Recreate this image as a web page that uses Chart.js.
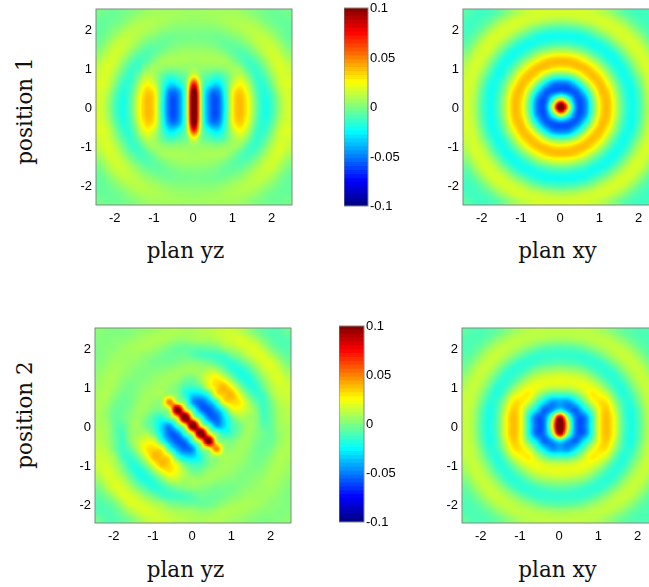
<!DOCTYPE html>
<html>
<head>
<meta charset="utf-8">
<script src="https://cdn.jsdelivr.net/npm/chart.js@4"></script>
<style>
  html, body { margin: 0; background: #fff; overflow: hidden; }
  #page { position: relative; width: 649px; height: 587px; overflow: hidden; }
  canvas { position: absolute; }
  .side, .plan { position: absolute; font: 21.5px "DejaVu Serif", serif; color: #111; white-space: nowrap; }
  .side { transform: translate(-50%, -50%) rotate(-90deg); }
  .plan { transform: translate(-50%, -50%); }
</style>
</head>
<body>
<div id="page">
  <div class="side" style="left:24px; top:111px">position 1</div>
  <div class="side" style="left:24px; top:415px">position 2</div>
  <div class="plan" style="left:185.5px; top:250px">plan yz</div>
  <div class="plan" style="left:557.5px; top:250px">plan xy</div>
  <div class="plan" style="left:185.5px; top:569px">plan yz</div>
  <div class="plan" style="left:557.5px; top:569px">plan xy</div>
</div>
<script>
// values, in thousandths, top row is y = 2.4
const gridCoords = [-2.4, -2.2, -2, -1.8, -1.6, -1.4, -1.2, -1, -0.8, -0.6, -0.4, -0.2, 0, 0.2, 0.4, 0.6, 0.8, 1, 1.2, 1.4, 1.6, 1.8, 2, 2.2, 2.4];
const axisTicks = [-2, -1, 0, 1, 2];
const barTicks = [-100, -50, 0, 50, 100];
const barLevels = [-100, -96, -92, -88, -84, -80, -76, -72, -68, -64, -60, -56, -52, -48, -44, -40, -36, -32, -28, -24, -20, -16, -12, -8, -4, 0, 4, 8, 12, 16, 20, 24, 28, 32, 36, 40, 44, 48, 52, 56, 60, 64, 68, 72, 76, 80, 84, 88, 92, 96, 100];

const yzPosition1 = [
  [-2,-4,-4,-2,0,3,6,7,7,7,7,6,6,6,7,7,7,7,6,3,0,-2,-4,-4,-2],
  [-5,-5,-3,0,5,8,9,9,8,6,5,5,4,5,5,6,8,9,9,8,5,0,-3,-5,-5],
  [-6,-3,1,6,10,11,9,7,4,2,1,1,1,1,1,2,4,7,9,11,10,6,1,-3,-6],
  [-5,0,7,12,12,9,4,1,-2,-3,-2,-2,-1,-2,-2,-3,-2,1,4,9,12,12,7,0,-5],
  [-2,6,13,14,10,3,-3,-5,-5,-2,0,1,1,1,0,-2,-5,-5,-3,3,10,14,13,6,-2],
  [3,11,16,12,3,-5,-9,-6,-1,3,5,6,6,6,5,3,-1,-6,-9,-5,3,12,16,11,3],
  [9,16,15,5,-6,-12,-8,0,7,8,8,8,7,8,8,8,7,0,-8,-12,-6,5,15,16,9],
  [14,18,11,-2,-13,-11,2,7,4,2,3,4,6,4,3,2,4,7,2,-11,-13,-2,11,18,14],
  [16,16,5,-9,-15,-2,12,7,-6,-14,-9,-2,22,-2,-9,-14,-6,7,12,-2,-15,-9,5,16,16],
  [19,15,0,-15,-13,8,24,14,-12,-30,-22,0,70,0,-22,-30,-12,14,24,8,-13,-15,0,15,19],
  [17,11,-7,-18,-9,16,34,25,-17,-50,-44,0,110,0,-44,-50,-17,25,34,16,-9,-18,-7,11,17],
  [17,7,-11,-20,-6,21,38,28,-20,-58,-50,0,120,0,-50,-58,-20,28,38,21,-6,-20,-11,7,17],
  [17,6,-12,-20,-5,22,38,28,-22,-58,-50,0,120,0,-50,-58,-22,28,38,22,-5,-20,-12,6,17],
  [17,7,-11,-20,-6,21,38,28,-20,-58,-50,0,120,0,-50,-58,-20,28,38,21,-6,-20,-11,7,17],
  [17,11,-7,-18,-9,16,34,25,-17,-50,-44,0,110,0,-44,-50,-17,25,34,16,-9,-18,-7,11,17],
  [19,15,0,-15,-13,8,24,14,-12,-30,-22,0,70,0,-22,-30,-12,14,24,8,-13,-15,0,15,19],
  [16,16,5,-9,-15,-2,12,7,-6,-14,-9,-2,22,-2,-9,-14,-6,7,12,-2,-15,-9,5,16,16],
  [14,18,11,-2,-13,-11,2,7,4,2,3,4,6,4,3,2,4,7,2,-11,-13,-2,11,18,14],
  [9,16,15,5,-6,-12,-8,0,7,8,8,8,7,8,8,8,7,0,-8,-12,-6,5,15,16,9],
  [3,11,16,12,3,-5,-9,-6,-1,3,5,6,6,6,5,3,-1,-6,-9,-5,3,12,16,11,3],
  [-2,6,13,14,10,3,-3,-5,-5,-2,0,1,1,1,0,-2,-5,-5,-3,3,10,14,13,6,-2],
  [-5,0,7,12,12,9,4,1,-2,-3,-2,-2,-1,-2,-2,-3,-2,1,4,9,12,12,7,0,-5],
  [-6,-3,1,6,10,11,9,7,4,2,1,1,1,1,1,2,4,7,9,11,10,6,1,-3,-6],
  [-5,-5,-3,0,5,8,9,9,8,6,5,5,4,5,5,6,8,9,9,8,5,0,-3,-5,-5],
  [-2,-4,-4,-2,0,3,6,7,7,7,7,6,6,6,7,7,7,7,6,3,0,-2,-4,-4,-2]
];

const xyPosition1 = [
  [-8,-12,-13,-11,-7,0,7,12,15,17,17,17,17,17,17,17,15,12,7,0,-7,-11,-13,-12,-8],
  [-12,-13,-10,-5,4,11,16,17,15,13,10,8,7,8,10,13,15,17,16,11,4,-5,-10,-13,-12],
  [-13,-10,-4,6,14,17,15,10,2,-4,-9,-11,-12,-11,-9,-4,2,10,15,17,14,6,-4,-10,-13],
  [-11,-5,6,15,17,13,3,-6,-14,-20,-22,-22,-22,-22,-22,-20,-14,-6,3,13,17,15,6,-5,-11],
  [-7,4,14,17,11,0,-12,-20,-22,-18,-14,-11,-10,-11,-14,-18,-22,-20,-12,0,11,17,14,4,-7],
  [0,11,17,13,0,-14,-22,-19,-11,0,7,13,14,13,7,0,-11,-19,-22,-14,0,13,17,11,0],
  [7,16,15,3,-12,-22,-18,-5,9,23,33,37,38,37,33,23,9,-5,-18,-22,-12,3,15,16,7],
  [12,17,10,-6,-20,-19,-5,13,30,38,36,30,28,30,36,38,30,13,-5,-19,-20,-6,10,17,12],
  [15,15,2,-14,-22,-11,9,30,38,28,8,-6,-10,-6,8,28,38,30,9,-11,-22,-14,2,15,15],
  [17,13,-4,-20,-18,0,23,38,28,0,-28,-48,-52,-48,-28,0,28,38,23,0,-18,-20,-4,13,17],
  [17,10,-9,-22,-14,7,33,36,8,-28,-55,-57,-52,-57,-55,-28,8,36,33,7,-14,-22,-9,10,17],
  [17,8,-11,-22,-11,13,37,30,-6,-48,-57,-15,25,-15,-57,-48,-6,30,37,13,-11,-22,-11,8,17],
  [17,7,-12,-22,-10,14,38,28,-10,-52,-52,25,125,25,-52,-52,-10,28,38,14,-10,-22,-12,7,17],
  [17,8,-11,-22,-11,13,37,30,-6,-48,-57,-15,25,-15,-57,-48,-6,30,37,13,-11,-22,-11,8,17],
  [17,10,-9,-22,-14,7,33,36,8,-28,-55,-57,-52,-57,-55,-28,8,36,33,7,-14,-22,-9,10,17],
  [17,13,-4,-20,-18,0,23,38,28,0,-28,-48,-52,-48,-28,0,28,38,23,0,-18,-20,-4,13,17],
  [15,15,2,-14,-22,-11,9,30,38,28,8,-6,-10,-6,8,28,38,30,9,-11,-22,-14,2,15,15],
  [12,17,10,-6,-20,-19,-5,13,30,38,36,30,28,30,36,38,30,13,-5,-19,-20,-6,10,17,12],
  [7,16,15,3,-12,-22,-18,-5,9,23,33,37,38,37,33,23,9,-5,-18,-22,-12,3,15,16,7],
  [0,11,17,13,0,-14,-22,-19,-11,0,7,13,14,13,7,0,-11,-19,-22,-14,0,13,17,11,0],
  [-7,4,14,17,11,0,-12,-20,-22,-18,-14,-11,-10,-11,-14,-18,-22,-20,-12,0,11,17,14,4,-7],
  [-11,-5,6,15,17,13,3,-6,-14,-20,-22,-22,-22,-22,-22,-20,-14,-6,3,13,17,15,6,-5,-11],
  [-13,-10,-4,6,14,17,15,10,2,-4,-9,-11,-12,-11,-9,-4,2,10,15,17,14,6,-4,-10,-13],
  [-12,-13,-10,-5,4,11,16,17,15,13,10,8,7,8,10,13,15,17,16,11,4,-5,-10,-13,-12],
  [-8,-12,-13,-11,-7,0,7,12,15,17,17,17,17,17,17,17,15,12,7,0,-7,-11,-13,-12,-8]
];

const yzPosition2 = [
  [2,1,0,0,1,3,5,6,8,9,9,8,8,10,11,13,15,15,12,6,-1,-6,-9,-9,-4],
  [1,0,2,2,4,6,8,9,9,7,4,4,6,7,7,10,13,16,18,15,9,0,-7,-10,-9],
  [0,2,2,5,7,8,8,6,3,-1,-4,-5,-5,-5,-3,-2,6,9,14,17,18,9,-1,-7,-9],
  [0,2,5,6,6,6,3,1,-2,-4,-4,-3,-8,-11,-13,-13,-12,-3,3,12,17,18,9,0,-6],
  [1,4,7,6,5,3,1,-2,-2,-2,0,2,3,1,-2,-8,-14,-17,-10,-1,10,17,18,9,-1],
  [3,6,8,6,3,1,0,1,2,4,6,6,7,6,12,10,-3,-15,-20,-13,-1,12,17,15,6],
  [5,8,8,3,1,0,1,4,6,7,5,-1,-3,8,20,28,18,0,-15,-20,-10,3,14,18,12],
  [6,9,6,1,-2,1,4,6,7,4,-1,-11,-12,-5,18,32,38,22,0,-15,-17,-3,9,16,15],
  [8,9,3,-2,-2,2,6,7,8,7,0,-18,-32,-30,-15,26,36,38,18,-3,-14,-12,6,13,15],
  [9,7,-1,-4,-2,4,7,4,7,50,15,-2,-45,-55,-42,-15,26,32,28,10,-6,-13,-2,10,13],
  [9,4,-4,-4,0,6,5,-1,0,15,110,30,-10,-50,-58,-42,-15,18,20,12,2,-13,-3,7,11],
  [8,4,-5,-3,2,6,-1,-11,-18,-2,30,120,25,-12,-50,-55,-30,-5,8,6,3,-11,-5,7,10],
  [8,6,-5,-8,3,7,-3,-12,-32,-45,-10,25,120,25,-10,-45,-32,-12,-3,7,3,-8,-5,6,8],
  [10,7,-5,-11,3,6,8,-5,-30,-55,-50,-12,25,120,30,-2,-18,-11,-1,6,2,-3,-5,4,8],
  [11,7,-3,-13,2,12,20,18,-15,-42,-58,-50,-10,30,110,15,0,-1,5,6,0,-4,-4,4,9],
  [13,10,-2,-13,-6,10,28,32,26,-15,-42,-55,-45,-2,15,50,7,4,7,4,-2,-4,-1,7,9],
  [15,13,6,-12,-14,-3,18,38,36,26,-15,-30,-32,-18,0,7,8,7,6,2,-2,-2,3,9,8],
  [15,16,9,-3,-17,-15,0,22,38,32,18,-5,-12,-11,-1,4,7,6,4,1,-2,1,6,9,6],
  [12,18,14,3,-10,-20,-15,0,18,28,20,8,-3,-1,5,7,6,4,1,0,1,3,8,8,5],
  [6,15,17,12,-1,-13,-20,-15,-3,10,12,6,7,6,6,4,2,1,0,1,3,6,8,6,3],
  [-1,9,18,17,10,-1,-10,-17,-14,-8,-2,1,3,2,0,-2,-2,-2,1,3,5,6,7,4,1],
  [-6,0,9,18,17,12,3,-3,-12,-13,-13,-11,-8,-3,-4,-4,-2,1,3,6,6,6,5,2,0],
  [-9,-7,-1,9,18,17,14,9,6,-2,-3,-5,-5,-5,-4,-1,3,6,8,8,7,5,2,2,0],
  [-9,-10,-7,0,9,15,18,16,13,10,7,7,6,4,4,7,9,9,8,6,4,2,2,0,1],
  [-4,-9,-9,-6,-1,6,12,15,15,13,11,10,8,8,9,9,8,6,5,3,1,0,0,1,2]
];

const xyPosition2 = [
  [-7,-10,-10,-8,-5,0,5,9,11,12,12,12,12,12,12,12,11,9,5,0,-5,-8,-10,-10,-7],
  [-10,-10,-8,-4,3,8,12,12,11,9,8,6,6,6,8,9,11,12,12,8,3,-4,-8,-10,-10],
  [-10,-8,-3,5,11,13,11,7,2,-3,-7,-8,-9,-8,-7,-3,2,7,11,13,11,5,-3,-8,-10],
  [-8,-4,5,12,14,10,3,-5,-11,-15,-15,-15,-15,-15,-15,-15,-11,-5,3,10,14,12,5,-4,-8],
  [-5,3,11,14,9,0,-10,-16,-16,-13,-10,-8,-7,-8,-10,-13,-16,-16,-10,0,9,14,11,3,-5],
  [0,9,14,10,0,-12,-17,-14,-7,1,5,7,8,7,5,1,-7,-14,-17,-12,0,10,14,9,0],
  [6,13,12,3,-10,-17,-13,-3,8,15,18,19,20,19,18,15,8,-3,-13,-17,-10,3,12,13,6],
  [10,14,8,-5,-17,-15,-2,12,20,22,18,15,15,15,18,22,20,12,-2,-15,-17,-5,8,14,10],
  [13,12,2,-12,-18,-6,15,24,28,12,-3,-12,-12,-12,-3,12,28,24,15,-6,-18,-12,2,12,13],
  [14,11,-3,-17,-13,6,28,30,16,-8,-30,-46,-42,-46,-30,-8,16,30,28,6,-13,-17,-3,11,14],
  [14,8,-8,-20,-10,14,35,25,-6,-30,-55,-45,-25,-45,-55,-30,-6,25,35,14,-10,-20,-8,8,14],
  [14,7,-10,-20,-8,20,38,24,-20,-55,-50,5,95,5,-50,-55,-20,24,38,20,-8,-20,-10,7,14],
  [14,6,-11,-20,-7,20,38,24,-20,-55,-50,25,125,25,-50,-55,-20,24,38,20,-7,-20,-11,6,14],
  [14,7,-10,-20,-8,20,38,24,-20,-55,-50,5,95,5,-50,-55,-20,24,38,20,-8,-20,-10,7,14],
  [14,8,-8,-20,-10,14,35,25,-6,-30,-55,-45,-25,-45,-55,-30,-6,25,35,14,-10,-20,-8,8,14],
  [14,11,-3,-17,-13,6,28,30,16,-8,-30,-46,-42,-46,-30,-8,16,30,28,6,-13,-17,-3,11,14],
  [13,12,2,-12,-18,-6,15,24,28,12,-3,-12,-12,-12,-3,12,28,24,15,-6,-18,-12,2,12,13],
  [10,14,8,-5,-17,-15,-2,12,20,22,18,15,15,15,18,22,20,12,-2,-15,-17,-5,8,14,10],
  [6,13,12,3,-10,-17,-13,-3,8,15,18,19,20,19,18,15,8,-3,-13,-17,-10,3,12,13,6],
  [0,9,14,10,0,-12,-17,-14,-7,1,5,7,8,7,5,1,-7,-14,-17,-12,0,10,14,9,0],
  [-5,3,11,14,9,0,-10,-16,-16,-13,-10,-8,-7,-8,-10,-13,-16,-16,-10,0,9,14,11,3,-5],
  [-8,-4,5,12,14,10,3,-5,-11,-15,-15,-15,-15,-15,-15,-15,-11,-5,3,10,14,12,5,-4,-8],
  [-10,-8,-3,5,11,13,11,7,2,-3,-7,-8,-9,-8,-7,-3,2,7,11,13,11,5,-3,-8,-10],
  [-10,-10,-8,-4,3,8,12,12,11,9,8,6,6,6,8,9,11,12,12,8,3,-4,-8,-10,-10],
  [-7,-10,-10,-8,-5,0,5,9,11,12,12,12,12,12,12,12,11,9,5,0,-5,-8,-10,-10,-7]
];

const TICK_FONT = { family: '"Liberation Sans", Arial, sans-serif', size: 13 };
const FRAME_COLOR = "#7f8a7f";
const PATCH_SIZE = 9; // cells are a bit under 8px, patches overlap

function jet(value) {
  const t = Math.min(1, Math.max(0, (value + 100) / 200));
  const part = (c) => Math.round(255 * Math.min(1, Math.max(0, 1.5 - Math.abs(4 * t - c))));
  return [part(3), part(2), part(1)];
}

function spline(p0, p1, p2, p3, t) {
  return 0.5 * (2 * p1 + (p2 - p0) * t + (2 * p0 - 5 * p1 + 4 * p2 - p3) * t * t + (3 * p1 - p0 - 3 * p2 + p3) * t * t * t);
}

function sample(rows, r, c) {
  const last = rows.length - 1;
  const at = (i) => Math.min(last, Math.max(0, i));
  r = at(r);
  c = at(c);
  const r0 = Math.floor(r), c0 = Math.floor(c);
  const across = [-1, 0, 1, 2].map((d) => {
    const row = rows[at(r0 + d)];
    return spline(row[at(c0 - 1)], row[at(c0)], row[at(c0 + 1)], row[at(c0 + 2)], c - c0);
  });
  return spline(across[0], across[1], across[2], across[3], r - r0);
}

// one small shaded image per cell, used as the point style of that cell
// (the original was shaded, so colours blend towards the next cell inside each patch)
function cellPatch(rows, r, c, cellPx) {
  const cv = document.createElement("canvas");
  cv.width = cv.height = PATCH_SIZE;
  const g = cv.getContext("2d");
  const img = g.createImageData(PATCH_SIZE, PATCH_SIZE);
  for (let py = 0; py < PATCH_SIZE; py++) {
    for (let px = 0; px < PATCH_SIZE; px++) {
      const v = sample(rows, r + (py + 0.5 - PATCH_SIZE / 2) / cellPx, c + (px + 0.5 - PATCH_SIZE / 2) / cellPx);
      const [red, green, blue] = jet(v);
      const i = (py * PATCH_SIZE + px) * 4;
      img.data[i] = red;
      img.data[i + 1] = green;
      img.data[i + 2] = blue;
      img.data[i + 3] = 255;
    }
  }
  g.putImageData(img, 0, 0);
  return cv;
}

const framePlugin = {
  id: "frame",
  afterDatasetsDraw(chart) {
    const { ctx, chartArea: a } = chart;
    ctx.save();
    ctx.strokeStyle = FRAME_COLOR;
    ctx.lineWidth = 1;
    ctx.strokeRect(a.left, a.top, a.right - a.left, a.bottom - a.top);
    ctx.restore();
  },
};

function addCanvas(left, top, width, height) {
  const cv = document.createElement("canvas");
  cv.width = width;
  cv.height = height;
  cv.style.left = left + "px";
  cv.style.top = top + "px";
  document.getElementById("page").appendChild(cv);
  return cv.getContext("2d");
}

function drawPanel(rows, left, top, size) {
  const points = [];
  const patches = [];
  rows.forEach((row, r) => {
    row.forEach((v, c) => {
      points.push({ x: gridCoords[c], y: gridCoords[rows.length - 1 - r] });
      patches.push(cellPatch(rows, r, c, size / rows.length));
    });
  });
  const ctx = addCanvas(left - 60, top - 20, 60 + 196 + 8, 20 + size + 40);
  const tickSetup = {
    min: -2.5,
    max: 2.5,
    afterBuildTicks: (scale) => { scale.ticks = axisTicks.map((value) => ({ value })); },
    grid: { display: false, drawTicks: false },
    border: { display: false },
  };
  new Chart(ctx, {
    type: "scatter",
    data: { datasets: [{ data: points, pointStyle: patches, pointRadius: 5, pointBorderWidth: 0 }] },
    options: {
      responsive: false,
      animation: false,
      events: [],
      layout: { padding: { top: 20, right: 8, left: 0, bottom: 0 } },
      plugins: { legend: { display: false }, tooltip: { enabled: false } },
      scales: {
        x: {
          ...tickSetup,
          afterFit: (scale) => { scale.height = 40; },
          ticks: { font: TICK_FONT, color: "#000", padding: 6, labelOffset: -0.8, maxRotation: 0, autoSkip: false, callback: (v) => String(v) },
        },
        y: {
          ...tickSetup,
          afterFit: (scale) => { scale.width = 60; },
          ticks: { font: TICK_FONT, color: "#000", padding: 4, labelOffset: 1.5, autoSkip: false, callback: (v) => String(v) },
        },
      },
    },
    plugins: [framePlugin],
  });
}

function drawColorbar(left, top, width, height) {
  // first dataset is painted last, so each bar runs up from the bottom and covers the one behind it
  const datasets = barLevels.slice(1).map((upper, i) => ({
    data: [[-100, upper]],
    backgroundColor: "rgb(" + jet((barLevels[i] + upper) / 2).join(",") + ")",
    grouped: false,
    categoryPercentage: 1,
    barPercentage: 1,
  }));
  const ctx = addCanvas(left, top - 14, width + 50, height + 28);
  new Chart(ctx, {
    type: "bar",
    data: { labels: [""], datasets },
    options: {
      responsive: false,
      animation: false,
      events: [],
      layout: { padding: { top: 14, bottom: 14 } },
      plugins: { legend: { display: false }, tooltip: { enabled: false } },
      scales: {
        x: { display: false },
        y: {
          position: "right",
          min: -100,
          max: 100,
          afterBuildTicks: (scale) => { scale.ticks = barTicks.map((value) => ({ value })); },
          afterFit: (scale) => { scale.width = 50; },
          grid: { display: false, drawTicks: false },
          border: { display: false },
          ticks: { font: TICK_FONT, color: "#000", padding: 2, labelOffset: 0.6, autoSkip: false, callback: (v) => String(v / 1000) },
        },
      },
    },
    plugins: [framePlugin],
  });
}

drawPanel(yzPosition1, 96, 9, 196);
drawPanel(xyPosition1, 463, 9, 196);
drawPanel(yzPosition2, 95, 328, 195);
drawPanel(xyPosition2, 462, 328, 195);
drawColorbar(344, 8, 24, 198);
drawColorbar(339, 326, 25, 196);
</script>
</body>
</html>
